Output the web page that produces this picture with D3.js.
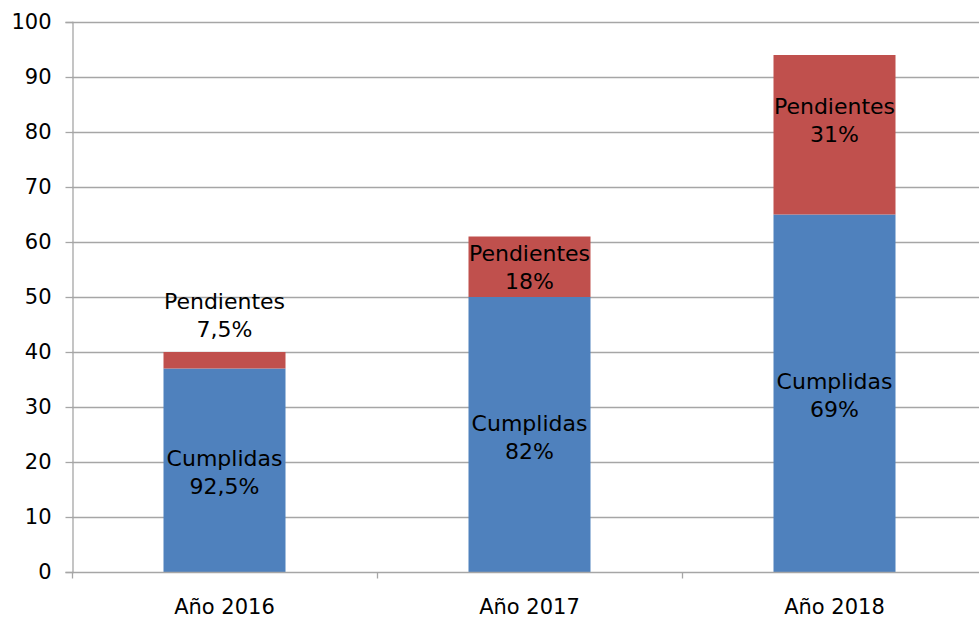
<!DOCTYPE html>
<html><head><meta charset="utf-8">
<script src="https://cdn.jsdelivr.net/npm/d3@7"></script>
<style>body{margin:0;background:#fff}svg{display:block}text{font-family:"DejaVu Sans",Verdana,sans-serif}</style>
</head><body>
<svg id="c" width="979" height="619"></svg>
<script>
const categories = ["Año 2016", "Año 2017", "Año 2018"];
const cumplidas = [37, 50, 65];
const pendientes = [3, 11, 29];
const cumplidasLbl = ["92,5%", "82%", "69%"];
const pendientesLbl = ["7,5%", "18%", "31%"];
const yTicks = [0,10,20,30,40,50,60,70,80,90,100];

const svg = d3.select("#c");
const m = {l:72, t:22, b:47};
const H = 619, plotW = 915;
const x = d3.scaleBand().domain(categories).range([m.l, m.l+plotW]).paddingInner(0.6).paddingOuter(0.3);
const y = d3.scaleLinear().domain([0,100]).range([H-m.b, m.t]);
const grid = "#a6a6a6";

// gridlines
svg.append("g").selectAll("line").data(yTicks.filter(d=>d>0)).join("line")
  .attr("x1", m.l).attr("x2", 979).attr("y1", d=>Math.round(y(d))+0.5).attr("y2", d=>Math.round(y(d))+0.5)
  .attr("stroke", grid).attr("stroke-width",1.3);

// y axis
const ya = svg.append("g").attr("transform",`translate(${m.l+0.5},0)`)
  .call(d3.axisLeft(y).tickValues(yTicks).tickSize(7).tickPadding(14).tickFormat(d3.format("d")));
ya.select(".domain").attr("stroke", grid).attr("stroke-width",1.3);
ya.selectAll(".tick line").attr("stroke", grid).attr("stroke-width",1.3);
ya.selectAll(".tick text").attr("font-size",21).attr("fill","#000").style("font-family","DejaVu Sans");

// bars
const stack = categories.map((c,i)=>({c, a:cumplidas[i], b:pendientes[i], i}));
svg.append("g").selectAll("rect").data(stack).join("rect")
  .attr("x", d=>x(d.c)).attr("width", x.bandwidth())
  .attr("y", d=>y(d.a)).attr("height", d=>y(0)-y(d.a)).attr("fill","#4f81bd");
svg.append("g").selectAll("rect").data(stack).join("rect")
  .attr("x", d=>x(d.c)).attr("width", x.bandwidth())
  .attr("y", d=>y(d.a+d.b)).attr("height", d=>y(d.a)-y(d.a+d.b)).attr("fill","#c0504d");

// x axis
const band = plotW/categories.length;
const xa = svg.append("g").attr("transform",`translate(0,${Math.round(y(0))+0.5})`);
xa.append("line").attr("x1",m.l).attr("x2",979).attr("stroke",grid).attr("stroke-width",1.3);
xa.selectAll("line.t").data(d3.range(categories.length+1)).join("line").attr("class","t")
  .attr("x1",i=>Math.round(m.l+i*band)+0.5).attr("x2",i=>Math.round(m.l+i*band)+0.5)
  .attr("y1",0).attr("y2",6).attr("stroke",grid).attr("stroke-width",1.3);
xa.selectAll("text").data(categories).join("text")
  .attr("x", d=>x(d)+x.bandwidth()/2).attr("y", 41).attr("text-anchor","middle")
  .attr("font-size",21).attr("fill","#000").text(d=>d);

// labels
function label(cx, cy, l1, l2){
  const t = svg.append("text").attr("text-anchor","middle").attr("font-size",22).attr("fill","#000");
  t.append("tspan").attr("x",cx).attr("y",cy-4).text(l1);
  t.append("tspan").attr("x",cx).attr("y",cy+24).text(l2);
}
stack.forEach(d=>{
  const cx = x(d.c)+x.bandwidth()/2;
  label(cx, (y(0)+y(d.a))/2, "Cumplidas", cumplidasLbl[d.i]);
  const top = y(d.a+d.b), mid = y(d.a);
  let cy;
  if (mid-top < 40) cy = top - 39;
  else if (d.i===2) cy = (top+mid)/2 - 17;
  else cy = (top+mid)/2 - 2;
  label(cx, cy, "Pendientes", pendientesLbl[d.i]);
});
</script>
</body></html>
